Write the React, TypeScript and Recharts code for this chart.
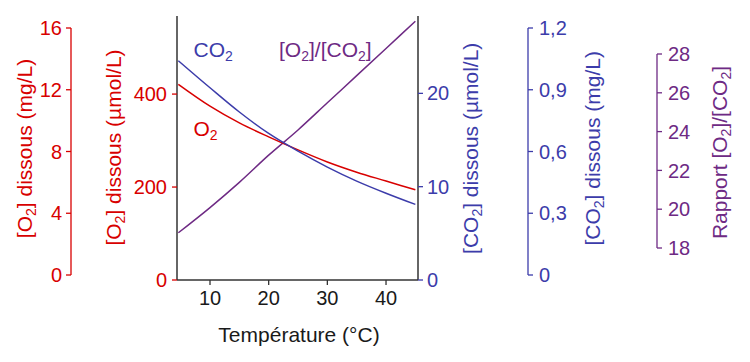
import React from 'react';
import { ComposedChart, LineChart, Line, XAxis, YAxis } from 'recharts';

// Temperature (°C)
const temperatures = [4.6, 10, 15, 20, 25, 30, 35, 40, 45];
// Dissolved O2 (µmol/L)
const o2Umol = [421, 374, 338, 308, 280, 254, 232, 213, 194];
// Dissolved CO2 (µmol/L)
const co2Umol = [23.5, 20.6, 18.0, 15.7, 13.8, 12.1, 10.6, 9.3, 8.1];
// Ratio [O2]/[CO2] (read against the ratio axis)
const ratioO2CO2 = [18.8, 20.1, 21.4, 22.8, 24.1, 25.5, 26.9, 28.3, 29.7];

const xTicks = [10, 20, 30, 40];
const o2UmolTicks = [0, 200, 400];
const co2UmolTicks = [0, 10, 20];
const o2MgTicks = [0, 4, 8, 12, 16];
const co2MgTicks = [0, 0.3, 0.6, 0.9, 1.2];
const ratioTicks = [18, 20, 22, 24, 26, 28];

const RED = '#d80000';
const BLUE = '#3c3caa';
const PURPLE = '#6e2a84';
const DARK = '#333333';
const FONT = '"Liberation Sans", Arial, Helvetica, sans-serif';
const FS = 20;
const TFS = 21;
const SFS = 14;

const data = temperatures.map((t, i) => ({
  t,
  o2: o2Umol[i],
  co2: co2Umol[i],
  ratio: ratioO2CO2[i],
}));

const axisData = [{ a: 0 }, { a: 1 }];

const commaFmt = (v: number) => (v === 0 ? '0' : String(Math.round(v * 10) / 10).replace('.', ','));

function AxisOnly(props: {
  left: number;
  top: number;
  width: number;
  height: number;
  margin: { top: number; right: number; bottom: number; left: number };
  orientation: 'left' | 'right';
  axisWidth: number;
  domain: [number, number];
  ticks: number[];
  color: string;
  tickMargin: number;
  formatter?: (v: number) => string;
}) {
  const p = props;
  return (
    <div style={{ position: 'absolute', left: p.left, top: p.top }}>
      <LineChart width={p.width} height={p.height} data={axisData} margin={p.margin}>
        <XAxis dataKey="a" hide />
        <YAxis
          orientation={p.orientation}
          width={p.axisWidth}
          type="number"
          domain={p.domain}
          ticks={p.ticks}
          interval={0}
          allowDataOverflow
          axisLine={{ stroke: p.color, strokeWidth: 1.3 }}
          tickLine={{ stroke: p.color, strokeWidth: 1.3 }}
          tickSize={5}
          tickMargin={p.tickMargin}
          tick={{ fill: p.color, fontSize: FS, fontFamily: FONT }}
          tickFormatter={p.formatter}
        />
      </LineChart>
    </div>
  );
}

function buildParts(parts: [string, boolean][]) {
  const out: React.ReactNode[] = [];
  let shifted = false;
  parts.forEach(([txt, sub], i) => {
    if (sub) {
      out.push(
        <tspan key={i} fontSize={SFS} dy={4}>
          {txt}
        </tspan>
      );
      shifted = true;
    } else {
      out.push(
        <tspan key={i} fontSize={TFS} dy={shifted ? -4 : 0}>
          {txt}
        </tspan>
      );
      shifted = false;
    }
  });
  return out;
}

function RotTitle(props: { x: number; y: number; color: string; parts: [string, boolean][] }) {
  const { x, y, color, parts } = props;
  return (
    <text
      transform={`translate(${x},${y}) rotate(-90)`}
      textAnchor="middle"
      fill={color}
      fontFamily={FONT}
      fontSize={TFS}
    >
      {buildParts(parts)}
    </text>
  );
}

function FlatText(props: { x: number; y: number; color: string; parts: [string, boolean][]; anchor?: string }) {
  const { x, y, color, parts } = props;
  return (
    <text x={x} y={y} fill={color} fontFamily={FONT} fontSize={TFS} textAnchor={props.anchor || 'start'}>
      {buildParts(parts)}
    </text>
  );
}

export default function App() {
  return (
    <div style={{ position: 'absolute', left: 0, top: 0, width: 750, height: 362, background: '#fff', fontFamily: FONT }}>
      <div style={{ position: 'absolute', left: 0, top: 0 }}>
        <ComposedChart width={750} height={362} data={data} margin={{ top: 16, right: 272, bottom: 0, left: 0 }}>
          <XAxis
            dataKey="t"
            type="number"
            domain={[4.375, 45.45]}
            ticks={xTicks}
            interval={0}
            allowDataOverflow
            height={82}
            axisLine={{ stroke: DARK, strokeWidth: 1.5 }}
            tickLine={{ stroke: DARK, strokeWidth: 1.3 }}
            tickSize={5}
            tickMargin={6}
            tick={{ fill: '#1a1a1a', fontSize: FS, fontFamily: FONT }}
          />
          <YAxis
            yAxisId="o2"
            orientation="left"
            width={177}
            type="number"
            domain={[0, 568]}
            ticks={o2UmolTicks}
            interval={0}
            allowDataOverflow
            axisLine={{ stroke: DARK, strokeWidth: 1.5 }}
            tickLine={{ stroke: RED, strokeWidth: 1.3 }}
            tickSize={5}
            tickMargin={5}
            tick={{ fill: RED, fontSize: FS, fontFamily: FONT }}
          />
          <YAxis
            yAxisId="co2"
            orientation="right"
            width={60}
            type="number"
            domain={[0, 28.29]}
            ticks={co2UmolTicks}
            interval={0}
            allowDataOverflow
            axisLine={{ stroke: DARK, strokeWidth: 1.5 }}
            tickLine={{ stroke: BLUE, strokeWidth: 1.3 }}
            tickSize={5}
            tickMargin={4}
            tick={{ fill: BLUE, fontSize: FS, fontFamily: FONT }}
          />
          <YAxis yAxisId="ratio" hide type="number" domain={[16.366, 29.974]} allowDataOverflow />
          <Line
            yAxisId="ratio"
            dataKey="ratio"
            type="monotone"
            stroke={PURPLE}
            strokeWidth={1.5}
            dot={false}
            isAnimationActive={false}
          />
          <Line
            yAxisId="o2"
            dataKey="o2"
            type="monotone"
            stroke={RED}
            strokeWidth={1.5}
            dot={false}
            isAnimationActive={false}
          />
          <Line
            yAxisId="co2"
            dataKey="co2"
            type="monotone"
            stroke={BLUE}
            strokeWidth={1.5}
            dot={false}
            isAnimationActive={false}
          />
        </ComposedChart>
      </div>

      <AxisOnly
        left={0}
        top={0}
        width={80}
        height={290}
        margin={{ top: 28, right: 0, bottom: 15, left: 0 }}
        orientation="left"
        axisWidth={71}
        domain={[0, 16]}
        ticks={o2MgTicks}
        color={RED}
        tickMargin={4}
      />
      <AxisOnly
        left={520}
        top={0}
        width={80}
        height={290}
        margin={{ top: 28, right: 0, bottom: 15, left: 0 }}
        orientation="right"
        axisWidth={72}
        domain={[0, 1.2]}
        ticks={co2MgTicks}
        color={BLUE}
        tickMargin={6}
        formatter={commaFmt}
      />
      <AxisOnly
        left={650}
        top={0}
        width={70}
        height={260}
        margin={{ top: 54, right: 0, bottom: 12, left: 0 }}
        orientation="right"
        axisWidth={63}
        domain={[18, 28]}
        ticks={ratioTicks}
        color={PURPLE}
        tickMargin={6}
      />

      <svg
        width={750}
        height={362}
        style={{ position: 'absolute', left: 0, top: 0, pointerEvents: 'none' }}
      >
        <RotTitle x={31.5} y={148.5} color={RED} parts={[['[O', false], ['2', true], ['] dissous (mg/L)', false]]} />
        <RotTitle x={120.5} y={147.5} color={RED} parts={[['[O', false], ['2', true], ['] dissous (µmol/L)', false]]} />
        <RotTitle x={478} y={148.3} color={BLUE} parts={[['[CO', false], ['2', true], ['] dissous (µmol/L)', false]]} />
        <RotTitle x={600} y={148.3} color={BLUE} parts={[['[CO', false], ['2', true], ['] dissous (mg/L)', false]]} />
        <RotTitle
          x={726.5}
          y={152.5}
          color={PURPLE}
          parts={[['Rapport [O', false], ['2', true], [']/[CO', false], ['2', true], [']', false]]}
        />
        <FlatText x={299} y={341.5} color="#1a1a1a" anchor="middle" parts={[['Température (°C)', false]]} />
        <FlatText x={193.5} y={56.5} color={BLUE} parts={[['CO', false], ['2', true]]} />
        <FlatText
          x={279}
          y={56.5}
          color={PURPLE}
          parts={[['[O', false], ['2', true], [']/[CO', false], ['2', true], [']', false]]}
        />
        <FlatText x={193.5} y={136} color={RED} parts={[['O', false], ['2', true]]} />
      </svg>
    </div>
  );
}
